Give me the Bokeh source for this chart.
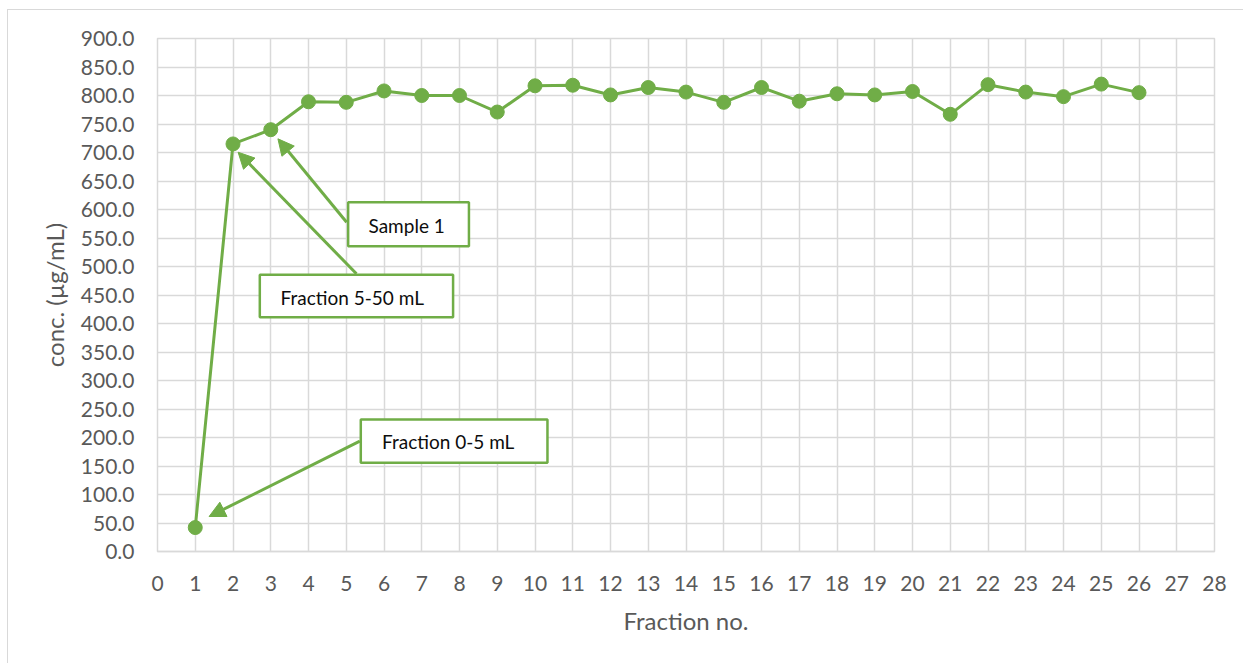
from bokeh.plotting import figure
from bokeh.models import (Range1d, FixedTicker, NumeralTickFormatter, Arrow, NormalHead,
                          BoxAnnotation, Label, ColumnDataSource)
from bokeh.embed import file_html
from bokeh.resources import INLINE

# ---- data ----
fractions = list(range(1, 27))
conc = [42, 715, 740, 789, 788, 808, 800, 800, 771, 817, 818, 801, 814,
        806, 788, 814, 790, 803, 801, 807, 767, 819, 806, 798, 820, 805]
x_ticks = list(range(0, 29))
y_ticks = list(range(0, 901, 50))

# annotation callouts: text, box (left, right, bottom, top), text centre, arrow start, arrow end (data units)
callouts = [
    ("Sample 1",          (5.05, 8.25, 535.6, 612.8), (6.60, 572.0), (5.01, 577.7), (3.19, 724.0)),
    ("Fraction 5-50 mL",  (2.71, 7.83, 411.0, 485.4), (5.16, 445.6), (5.27, 487.2), (2.135, 700.5)),
    ("Fraction 0-5 mL",   (5.385, 10.33, 155.6, 231.6), (7.70, 193.0), (5.36, 193.5), (1.367, 61.4)),
]

GREEN = "#70ad47"
GRID = "#d9d9d9"
TXT = "#595959"
FONT = "Lato"

p = figure(width=1236, height=654, output_backend="svg", toolbar_location=None,
           x_range=Range1d(0, 28), y_range=Range1d(0, 900),
           min_border_left=149, min_border_top=28, min_border_right=30, min_border_bottom=113)
p.styles = {"border-top": "1px solid #d9d9d9", "border-left": "1px solid #d9d9d9",
            "margin-left": "7px", "margin-top": "9px"}

p.outline_line_color = GRID
p.outline_line_width = 1.5
p.background_fill_color = "white"
p.border_fill_color = "white"

p.xgrid.grid_line_color = GRID
p.ygrid.grid_line_color = GRID
p.xgrid.grid_line_width = 1.5
p.ygrid.grid_line_width = 1.5

p.xaxis.ticker = FixedTicker(ticks=x_ticks)
p.yaxis.ticker = FixedTicker(ticks=y_ticks)
p.yaxis.formatter = NumeralTickFormatter(format="0.0")

for ax in (p.xaxis[0], p.yaxis[0]):
    ax.major_tick_line_color = None
    ax.minor_tick_line_color = None
    ax.major_label_text_font = FONT
    ax.major_label_text_font_size = "21px"
    ax.major_label_text_color = TXT
    ax.axis_label_text_font = FONT
    ax.axis_label_text_font_size = "24px"
    ax.axis_label_text_font_style = "normal"
    ax.axis_label_text_color = TXT

p.xaxis.axis_line_color = GRID
p.xaxis.axis_line_width = 1.5
p.yaxis.axis_line_color = None
p.xaxis.major_label_standoff = 18
p.yaxis.major_label_standoff = 17
p.xaxis.axis_label = "Fraction no."
p.yaxis.axis_label = "conc. (µg/mL)"
p.xaxis.axis_label_standoff = 12
p.yaxis.axis_label_standoff = 9

src = ColumnDataSource(dict(x=fractions, y=conc))
p.line("x", "y", source=src, line_color=GREEN, line_width=3)
p.scatter("x", "y", source=src, size=14, fill_color=GREEN, line_color=GREEN)

for text, (l, r, b, t), (tx, ty), (sx, sy), (ex, ey) in callouts:
    p.add_layout(Arrow(x_start=sx, y_start=sy, x_end=ex, y_end=ey, line_color=GREEN, line_width=3,
                       end=NormalHead(size=16, fill_color=GREEN, line_color=GREEN)))
    p.add_layout(BoxAnnotation(left=l, right=r, bottom=b, top=t, fill_color="white", fill_alpha=1,
                               line_color=GREEN, line_width=2.5, line_alpha=1))
    p.add_layout(Label(x=tx, y=ty, text=text, text_align="center", text_baseline="middle",
                       text_font=FONT, text_font_size="19px", text_color="#0d0d0d"))

open("out.html", "w").write(file_html(p, INLINE))
